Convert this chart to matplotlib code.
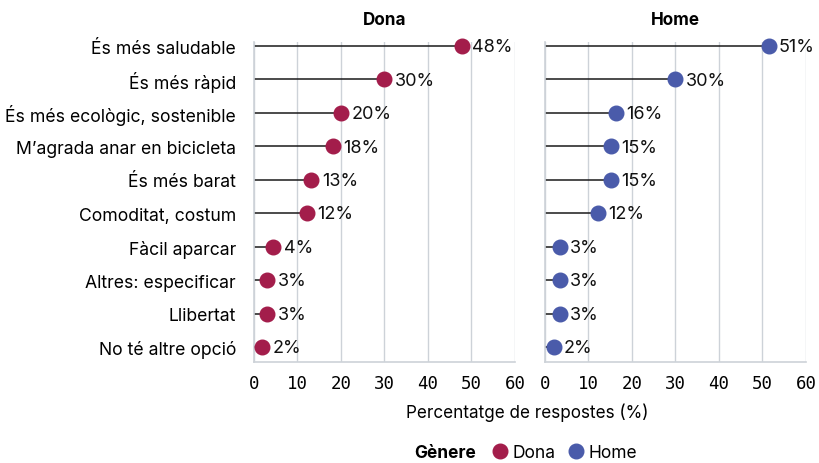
import matplotlib
matplotlib.use('Agg')
import matplotlib.pyplot as plt
from matplotlib.lines import Line2D
from matplotlib.offsetbox import HPacker

# Data
categories = [
    "És més saludable",
    "És més ràpid",
    "És més ecològic, sostenible",
    "M’agrada anar en bicicleta",
    "És més barat",
    "Comoditat, costum",
    "Fàcil aparcar",
    "Altres: especificar",
    "Llibertat",
    "No té altre opció",
]
dona = [47.8, 29.9, 20.0, 18.1, 13.2, 12.1, 4.4, 3.1, 3.1, 1.8]
home = [51.4, 30.0, 16.3, 15.1, 15.1, 12.2, 3.4, 3.4, 3.4, 2.0]
panels = ["Dona", "Home"]
xticks = [0, 10, 20, 30, 40, 50, 60]

colors = {"Dona": "#A31D4B", "Home": "#4A5BAA"}
grid_color = "#CDD2D8"
font = "Inter"
mono = "DejaVu Sans Mono"

fig = plt.figure(figsize=(8.2, 4.64), dpi=100)
bottom, top = 0.2177, 0.9073
ax_l = fig.add_axes([0.3097, bottom, 0.6280 - 0.3097, top - bottom])
ax_r = fig.add_axes([0.6646, bottom, 0.9829 - 0.6646, top - bottom])

ypos = list(range(len(categories)))
for ax, name, vals in [(ax_l, "Dona", dona), (ax_r, "Home", home)]:
    c = colors[name]
    ax.hlines(ypos, 0, vals, color="#1A1A1A", lw=1.1, zorder=2)
    ax.plot(vals, ypos, 'o', color=c, ms=10.5, zorder=3, clip_on=False)
    for y, v in zip(ypos, vals):
        ax.annotate(f"{v:.0f}%", (v, y), xytext=(7.5, -0.5), textcoords='offset points',
                    va='center', ha='left', fontsize=13, family=font, color="#111111")
    ax.set_xlim(0, 60)
    ax.set_ylim(9.45, -0.12)
    ax.set_xticks(xticks)
    ax.set_xticklabels([str(t) for t in xticks], family=mono, fontsize=12.5)
    ax.tick_params(axis='x', length=0, pad=9)
    ax.grid(axis='x', color=grid_color, lw=1)
    ax.set_axisbelow(True)
    for s in ['top', 'right']:
        ax.spines[s].set_visible(False)
    for s in ['left', 'bottom']:
        ax.spines[s].set_color(grid_color)
        ax.spines[s].set_linewidth(1.2)
    ax.set_title(name, fontsize=12.3, fontweight='bold', family=font, pad=13)

ax_l.set_yticks(ypos)
ax_l.set_yticklabels(categories, family=font, fontsize=12.7)
ax_l.tick_params(axis='y', length=0, pad=13)
ax_r.set_yticks(ypos)
ax_r.set_yticklabels([])
ax_r.tick_params(axis='y', length=0)

fig.text(0.643, 0.110, "Percentatge de respostes (%)", ha='center', va='center',
         fontsize=12.3, family=font)

# Legend, title on the same row as the entries
handles = [Line2D([], [], ls='', marker='o', ms=10.5, color=colors[p]) for p in panels]
leg = fig.legend(handles, panels, loc='center', bbox_to_anchor=(0.641, 0.022),
                 ncol=2, frameon=False, title="Gènere", handletextpad=0.1,
                 columnspacing=0.6, handlelength=1.2,
                 prop={'family': font, 'size': 12.5},
                 title_fontproperties={'family': font, 'size': 12.5, 'weight': 'bold'})
title_box = leg._legend_title_box
handle_box = leg._legend_handle_box
leg._legend_box._children = [HPacker(pad=0, sep=10, children=[title_box, handle_box], align='center')]

fig.savefig("out.png", dpi=100)
